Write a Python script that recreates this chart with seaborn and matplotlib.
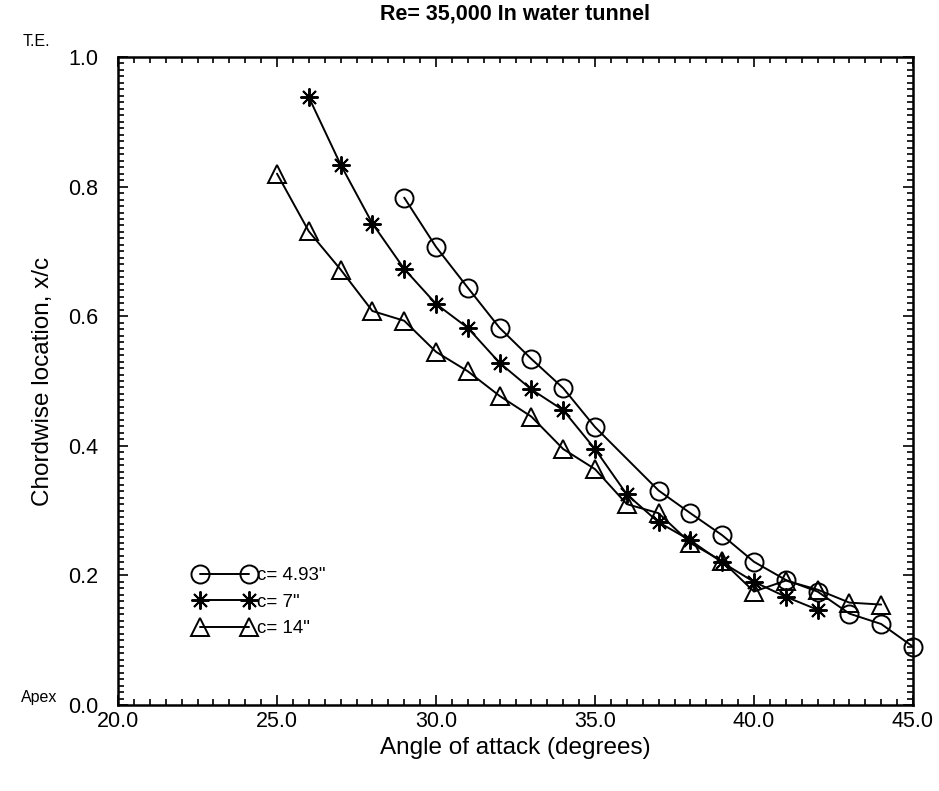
import matplotlib
matplotlib.use("Agg")
import matplotlib.pyplot as plt
from matplotlib.ticker import MultipleLocator, FormatStrFormatter
import seaborn as sns
import pandas as pd

# Vortex breakdown location vs angle of attack, three model chord lengths
alpha_c493 = [29, 30, 31, 32, 33, 34, 35, 37, 38, 39, 40, 41, 42, 43, 44, 45]
xc_c493 = [0.783, 0.707, 0.644, 0.582, 0.534, 0.489, 0.429, 0.331, 0.296,
           0.262, 0.221, 0.193, 0.175, 0.141, 0.125, 0.090]

alpha_c7 = [26, 27, 28, 29, 30, 31, 32, 33, 34, 35, 36, 37, 38, 39, 40, 41, 42]
xc_c7 = [0.938, 0.834, 0.743, 0.673, 0.619, 0.582, 0.528, 0.487, 0.455,
         0.395, 0.325, 0.282, 0.254, 0.220, 0.190, 0.167, 0.147]

alpha_c14 = [25, 26, 27, 28, 29, 30, 31, 32, 33, 34, 35, 36, 37, 38, 39, 40,
             41, 42, 43, 44]
xc_c14 = [0.820, 0.731, 0.672, 0.608, 0.593, 0.545, 0.515, 0.477, 0.445,
          0.395, 0.364, 0.310, 0.296, 0.250, 0.222, 0.175, 0.192, 0.178,
          0.158, 0.155]

series_labels = ['c= 4.93"', 'c= 7"', 'c= 14"']
x_ticks = [20.0, 25.0, 30.0, 35.0, 40.0, 45.0]
y_ticks = [0.0, 0.2, 0.4, 0.6, 0.8, 1.0]

sns.set_theme(style="ticks")
plt.rcParams["font.family"] = ["Liberation Sans", "DejaVu Sans"]
plt.rcParams.update({"text.color": "black", "axes.labelcolor": "black",
                     "xtick.color": "black", "ytick.color": "black"})

fig = plt.figure(figsize=(9.39, 7.91), dpi=100)
ax = fig.add_axes([118 / 939, 1 - 705 / 791, 795 / 939, 648 / 791])

series = [
    (alpha_c493, xc_c493, "o", 13, "none"),
    (alpha_c7, xc_c7, (8, 2, 0), 13, "black"),
    (alpha_c14, xc_c14, "^", 13.5, "none"),
]
for (xs, ys, mk, ms, fc), lab in zip(series, series_labels):
    df = pd.DataFrame({"alpha": xs, "xc": ys})
    sns.lineplot(data=df, x="alpha", y="xc", ax=ax, color="black",
                 linewidth=1.4, marker=mk, markersize=ms,
                 markerfacecolor=fc, markeredgecolor="black",
                 markeredgewidth=1.4, label=lab, clip_on=False)

ax.set_xlim(20, 45)
ax.set_ylim(0, 1.0)
ax.set_xticks(x_ticks)
ax.set_yticks(y_ticks)
ax.xaxis.set_major_formatter(FormatStrFormatter("%.1f"))
ax.yaxis.set_major_formatter(FormatStrFormatter("%.1f"))
ax.xaxis.set_minor_locator(MultipleLocator(0.5))
ax.yaxis.set_minor_locator(MultipleLocator(0.01))
ax.tick_params(which="both", direction="in", top=True, right=True,
               color="black", width=1.2)
ax.tick_params(which="major", length=7, labelsize=15.5)
ax.tick_params(which="minor", length=4)
ax.tick_params(axis="x", which="major", pad=4)
ax.tick_params(axis="y", which="major", pad=14)
for sp in ax.spines.values():
    sp.set_linewidth(1.8)
    sp.set_color("black")

ax.set_xlabel("Angle of attack (degrees)", fontsize=17.5, labelpad=4)
ax.set_ylabel("Chordwise location, x/c", fontsize=17.5, labelpad=10)
ax.set_title("Re= 35,000 In water tunnel", fontsize=15.5, fontweight="bold",
             pad=27)

ax.text(-0.12, 1.012, "T.E.", transform=ax.transAxes, fontsize=11.5,
        ha="left", va="bottom")
ax.text(-0.122, 0.0, "Apex", transform=ax.transAxes, fontsize=11.5,
        ha="left", va="bottom")

leg = ax.legend(loc="upper left", bbox_to_anchor=(0.096, 0.213),
                frameon=False, numpoints=2, handlelength=3.2,
                handletextpad=0.15, labelspacing=0.5, fontsize=13.5,
                borderpad=0, borderaxespad=0)

fig.savefig("out.png", dpi=100, facecolor="white")
